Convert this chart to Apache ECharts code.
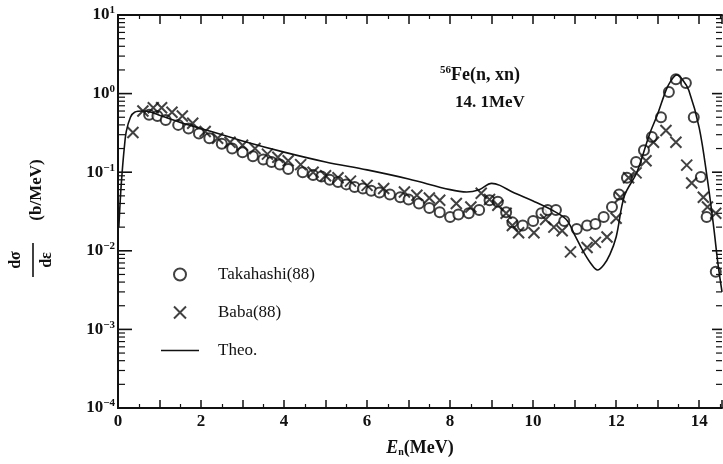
<!DOCTYPE html>
<html>
<head>
<meta charset="utf-8">
<script src="https://cdn.jsdelivr.net/npm/echarts@6/dist/echarts.min.js"></script>
<style>
html,body{margin:0;padding:0;background:#fff;}
#c{width:723px;height:464px;}
</style>
</head>
<body>
<div id="c"></div>
<script>
// ---- data ----
const theoE = [0.02,0.06,0.1,0.15,0.2,0.3,0.4,0.6,0.8,1.0,1.5,2,3,4,5,6,7,8,8.4,8.7,9.0,9.2,9.5,10,10.5,10.8,11.0,11.2,11.4,11.55,11.7,11.85,12.0,12.2,12.5,12.8,13.0,13.2,13.3,13.46,13.6,13.75,14.0,14.2,14.35,14.45,14.55];
const theoV = [0.02,0.05,0.1,0.2,0.33,0.5,0.58,0.6,0.58,0.53,0.43,0.36,0.25,0.18,0.135,0.107,0.082,0.06,0.056,0.06,0.072,0.068,0.056,0.043,0.032,0.025,0.016,0.01,0.0068,0.0057,0.0066,0.009,0.015,0.05,0.1,0.3,0.55,1.1,1.4,1.73,1.5,1.1,0.37,0.08,0.02,0.007,0.003];

const takE = [0.75,0.95,1.15,1.45,1.7,1.95,2.2,2.5,2.75,3.0,3.25,3.5,3.7,3.9,4.1,4.45,4.7,4.9,5.1,5.3,5.5,5.7,5.9,6.1,6.3,6.55,6.8,7.0,7.25,7.5,7.75,8.0,8.2,8.45,8.7,8.95,9.15,9.35,9.5,9.75,10.0,10.2,10.35,10.55,10.75,11.05,11.3,11.5,11.7,11.9,12.07,12.26,12.48,12.67,12.86,13.08,13.27,13.44,13.68,13.87,14.04,14.18,14.4];
const takV = [0.54,0.52,0.46,0.40,0.36,0.31,0.27,0.23,0.2,0.18,0.16,0.145,0.135,0.125,0.11,0.1,0.092,0.088,0.08,0.075,0.07,0.065,0.062,0.058,0.055,0.052,0.048,0.045,0.04,0.035,0.031,0.027,0.029,0.03,0.033,0.044,0.042,0.031,0.023,0.021,0.024,0.03,0.033,0.033,0.024,0.019,0.021,0.022,0.027,0.036,0.052,0.085,0.135,0.19,0.28,0.5,1.05,1.52,1.36,0.5,0.087,0.027,0.0054];

const babaE = [0.36,0.6,0.85,1.05,1.3,1.55,1.8,2.1,2.4,2.7,3.0,3.3,3.6,3.85,4.1,4.4,4.7,5.0,5.3,5.6,6.0,6.4,6.9,7.2,7.5,7.75,8.15,8.5,8.75,8.95,9.15,9.35,9.5,9.65,10.02,10.3,10.5,10.7,10.9,11.3,11.5,11.78,12.0,12.1,12.3,12.48,12.72,12.9,13.2,13.44,13.7,13.82,14.1,14.2,14.4];
const babaV = [0.32,0.6,0.66,0.66,0.58,0.52,0.42,0.33,0.27,0.24,0.22,0.2,0.17,0.155,0.14,0.125,0.1,0.09,0.085,0.077,0.068,0.062,0.056,0.051,0.047,0.044,0.04,0.036,0.054,0.045,0.038,0.03,0.021,0.017,0.017,0.025,0.02,0.018,0.0097,0.011,0.0128,0.015,0.026,0.048,0.085,0.098,0.14,0.24,0.34,0.24,0.123,0.073,0.048,0.036,0.03];

const seriesNames = ['Takahashi(88)', 'Baba(88)', 'Theo.'];
const xTickLabels = [0, 2, 4, 6, 8, 10, 12, 14];
const yDecades = [-4, -3, -2, -1, 0, 1];

// ---- build ----
const zip = (a, b) => a.map((v, i) => [v, b[i]]);
const majorVals = yDecades.map(e => [0, Math.pow(10, e)]);
const minorVals = [];
for (let d = -4; d < 1; d++) for (let k = 2; k <= 9; k++) minorVals.push([0, k * Math.pow(10, d)]);

const FONT = '"Liberation Serif", "DejaVu Serif", serif';
const INK = '#111';
const cross = 'path://M0,0L10,10M10,0L0,10';
const lineIcon = 'path://M0,0L38,0L38,1.6L0,1.6Z';

const chart = echarts.init(document.getElementById('c'), null, {renderer: 'canvas'});
chart.setOption({
  backgroundColor: '#fff',
  animation: false,
  grid: {left: 118, right: 1, top: 15, bottom: 56},
  legend: {
    orient: 'vertical', left: 156, top: 261, itemGap: 21,
    itemWidth: 38, itemHeight: 12,
    data: [
      {name: seriesNames[0], icon: 'emptyCircle'},
      {name: seriesNames[1], icon: cross},
      {name: seriesNames[2], icon: lineIcon}
    ],
    formatter: n => '{p|}' + n,
    textStyle: {fontFamily: FONT, fontSize: 17, color: INK, rich: {p: {width: 14}}}
  },
  xAxis: [{
    type: 'value', min: 0, max: 14.55, interval: 1,
    axisLine: {lineStyle: {color: INK, width: 2}},
    axisTick: {inside: true, length: 8, lineStyle: {color: INK, width: 1.5}},
    minorTick: {show: true, splitNumber: 2, length: 4, lineStyle: {color: INK, width: 1.2}},
    splitLine: {show: false},
    axisLabel: {
      margin: 5, fontFamily: FONT, fontSize: 17, fontWeight: 'bold', color: INK,
      showMaxLabel: false,
      formatter: v => xTickLabels.includes(v) ? String(v) : ''
    },
    name: '{i|E}{s|n}{t|(MeV)}', nameLocation: 'middle', nameGap: 31,
    nameTextStyle: {rich: {
      i: {fontFamily: FONT, fontSize: 18, fontStyle: 'italic', fontWeight: 'bold', color: INK},
      s: {fontFamily: FONT, fontSize: 10, fontWeight: 'bold', color: INK, verticalAlign: 'bottom', padding: [7,0,0,0]},
      t: {fontFamily: FONT, fontSize: 18, fontWeight: 'bold', color: INK}
    }}
  }, {
    type: 'value', position: 'top', min: 0, max: 14.55, interval: 1,
    axisLine: {lineStyle: {color: INK, width: 2}},
    axisTick: {inside: true, length: 9, lineStyle: {color: INK, width: 1.5}},
    minorTick: {show: true, splitNumber: 2, length: 4, lineStyle: {color: INK, width: 1.2}},
    splitLine: {show: false}, axisLabel: {show: false}
  }],
  yAxis: [{
    type: 'log', logBase: 10, min: 1e-4, max: 10,
    axisLine: {lineStyle: {color: INK, width: 2}},
    axisTick: {show: false},
    splitLine: {show: false},
    axisLabel: {show: false}
  }, {
    type: 'log', logBase: 10, min: 1e-4, max: 10, position: 'right',
    axisLine: {lineStyle: {color: INK, width: 2}},
    axisTick: {show: false},
    splitLine: {show: false}, axisLabel: {show: false}
  }],
  graphic: [
    {type: 'text', x: 16, y: 260, rotation: Math.PI/2,
     style: {text: 'd\u03c3', font: 'bold 16px "Liberation Serif", serif', fill: INK, align: 'center', verticalAlign: 'middle'}},
    {type: 'line', shape: {x1: 33, y1: 243, x2: 33, y2: 277}, style: {stroke: INK, lineWidth: 1.6}},
    {type: 'text', x: 47, y: 260, rotation: Math.PI/2,
     style: {text: 'd\u03b5', font: 'bold 16px "Liberation Serif", serif', fill: INK, align: 'center', verticalAlign: 'middle'}},
    {type: 'text', x: 37, y: 190, rotation: Math.PI/2,
     style: {text: '(b/MeV)', font: 'bold 17px "Liberation Serif", serif', fill: INK, align: 'center', verticalAlign: 'middle'}},
    {type: 'text', x: 440, y: 75,
     style: {text: '{s|56}{t|Fe(n, xn)}', fill: INK, verticalAlign: 'middle',
       rich: {s: {fontFamily: FONT, fontSize: 11, fontWeight: 'bold', verticalAlign: 'top', padding: [0,0,9,0]},
              t: {fontFamily: FONT, fontSize: 18, fontWeight: 'bold'}}}},
    {type: 'text', x: 455, y: 103,
     style: {text: '14. 1MeV', font: 'bold 17px "Liberation Serif", serif', fill: INK, verticalAlign: 'middle'}}
  ],
  series: [
    {
      name: seriesNames[0], type: 'scatter', data: zip(takE, takV),
      symbol: 'emptyCircle', symbolSize: 10,
      itemStyle: {color: INK, borderColor: INK, borderWidth: 2}
    },
    {
      name: seriesNames[1], type: 'scatter', data: zip(babaE, babaV),
      symbol: cross, symbolSize: 11, symbolKeepAspect: true,
      itemStyle: {color: 'none', borderColor: INK, borderWidth: 2}
    },
    {
      name: seriesNames[2], type: 'line', data: zip(theoE, theoV),
      symbol: 'none', smooth: 0.35,
      lineStyle: {color: INK, width: 1.6}, itemStyle: {color: INK}
    },
    {
      // decade ticks and labels on the log axes
      type: 'custom', data: majorVals, silent: true, z: 5, clip: false,
      renderItem: (params, api) => {
        const cs = params.coordSys;
        const v = api.value(1);
        const y = api.coord([0, v])[1];
        const e = Math.round(Math.log10(v));
        return {type: 'group', children: [
          {type: 'line', shape: {x1: cs.x, y1: y, x2: cs.x + 14, y2: y}, style: {stroke: INK, lineWidth: 1.6}},
          {type: 'line', shape: {x1: cs.x + cs.width - 10, y1: y, x2: cs.x + cs.width, y2: y}, style: {stroke: INK, lineWidth: 1.6}},
          {type: 'text', x: cs.x - 3, y: y, style: {
            text: '{b|10}{s|' + String(e).replace('-', '\u2212') + '}',
            align: 'right', verticalAlign: 'middle', fill: INK,
            rich: {
              b: {fontFamily: FONT, fontSize: 17, fontWeight: 'bold', fill: INK},
              s: {fontFamily: FONT, fontSize: 11, fontWeight: 'bold', fill: INK, verticalAlign: 'top', padding: [0,0,9,0]}
            }}}
        ]};
      }
    },
    {
      type: 'custom', data: minorVals, silent: true, z: 5,
      renderItem: (params, api) => {
        const cs = params.coordSys;
        const y = api.coord([0, api.value(1)])[1];
        return {type: 'group', children: [
          {type: 'line', shape: {x1: cs.x, y1: y, x2: cs.x + 7, y2: y}, style: {stroke: INK, lineWidth: 1.2}},
          {type: 'line', shape: {x1: cs.x + cs.width - 6, y1: y, x2: cs.x + cs.width, y2: y}, style: {stroke: INK, lineWidth: 1.2}}
        ]};
      }
    }
  ]
});
</script>
</body>
</html>
